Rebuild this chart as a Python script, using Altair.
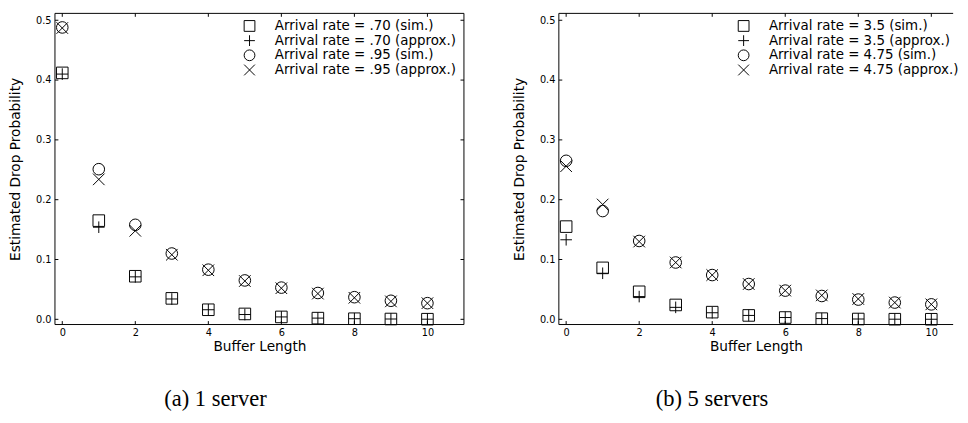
import altair as alt
import pandas as pd

# ---------------- data ----------------
buffer_len = list(range(11))

a_labels = [
    "Arrival rate = .70 (sim.)",
    "Arrival rate = .70 (approx.)",
    "Arrival rate = .95 (sim.)",
    "Arrival rate = .95 (approx.)",
]
a_sim_70 = [0.412, 0.165, 0.072, 0.035, 0.016, 0.009, 0.004, 0.002, 0.001, 0.0005, 0.0002]
a_approx_70 = [0.410, 0.154, 0.071, 0.034, 0.016, 0.008, 0.004, 0.002, 0.001, 0.0005, 0.0002]
a_sim_95 = [0.488, 0.251, 0.158, 0.110, 0.083, 0.065, 0.053, 0.044, 0.037, 0.031, 0.027]
a_approx_95 = [0.487, 0.234, 0.148, 0.108, 0.082, 0.064, 0.052, 0.043, 0.036, 0.030, 0.027]

b_labels = [
    "Arrival rate = 3.5 (sim.)",
    "Arrival rate = 3.5 (approx.)",
    "Arrival rate = 4.75 (sim.)",
    "Arrival rate = 4.75 (approx.)",
]
b_sim_35 = [0.155, 0.086, 0.046, 0.024, 0.012, 0.0065, 0.003, 0.0011, 0.0005, 0.0002, 0.0001]
b_approx_35 = [0.133, 0.077, 0.038, 0.020, 0.011, 0.0065, 0.003, 0.0012, 0.0005, 0.0002, 0.0001]
b_sim_475 = [0.265, 0.181, 0.131, 0.095, 0.074, 0.059, 0.048, 0.039, 0.033, 0.028, 0.025]
b_approx_475 = [0.256, 0.192, 0.130, 0.095, 0.074, 0.059, 0.048, 0.040, 0.034, 0.028, 0.025]

x_ticks = [0, 2, 4, 6, 8, 10]
y_ticks = [0.0, 0.1, 0.2, 0.3, 0.4, 0.5]

captions = ["(a) 1 server", "(b) 5 servers"]

# ---------------- styling ----------------
shapes = ["square", "M-1,0H1M0,-1V1", "circle", "M-1,-1L1,1M-1,1L1,-1"]
H = 318
TL = 3.5
FONT = "DejaVu Sans"


def rule(df, **enc):
    return alt.Chart(df).mark_rule(color="black", strokeWidth=1).encode(**enc)


def frame(series_labels, series_values, caption, legend_x, legend_y,
          width, x_max, right_side):
    rows = []
    for lab, vals in zip(series_labels, series_values):
        for b, v in zip(buffer_len, vals):
            rows.append({"buffer": b, "prob": v, "series": lab})
    df = pd.DataFrame(rows)

    xs = alt.Scale(domain=[-0.2, x_max], nice=False, zero=False)
    ys = alt.Scale(domain=[-0.0087, 0.5115], nice=False, zero=False)

    points = alt.Chart(df).mark_point(
        filled=False, color="black", strokeWidth=1, size=140, opacity=1
    ).encode(
        x=alt.X("buffer:Q", scale=xs, title="Buffer Length",
                axis=alt.Axis(values=x_ticks, format="d", labelPadding=3,
                              titlePadding=3)),
        y=alt.Y("prob:Q", scale=ys, title="Estimated Drop Probability",
                axis=alt.Axis(values=y_ticks, format=".1f", labelPadding=4,
                              titlePadding=13)),
        shape=alt.Shape(
            "series:N",
            scale=alt.Scale(domain=series_labels, range=shapes),
            legend=alt.Legend(
                title=None, orient="none", legendX=legend_x, legendY=legend_y,
                labelFont=FONT, labelFontSize=13.7, labelColor="black",
                labelLimit=400, labelOffset=19, rowPadding=-1.2,
                symbolSize=121, symbolStrokeWidth=1,
                symbolStrokeColor="black", symbolFillColor="transparent",
            ),
        ),
    )

    ydf = pd.DataFrame({"prob": y_ticks})
    xdf = pd.DataFrame({"buffer": x_ticks})
    one = pd.DataFrame({"buffer": [0]})

    layers = [
        points,
        # inward ticks
        rule(ydf, y=alt.Y("prob:Q", scale=ys), x=alt.value(0), x2=alt.value(TL)),
        rule(xdf, x=alt.X("buffer:Q", scale=xs), y=alt.value(H - TL), y2=alt.value(H)),
        rule(xdf, x=alt.X("buffer:Q", scale=xs), y=alt.value(0), y2=alt.value(TL)),
        # frame
        rule(one, x=alt.value(0), x2=alt.value(width), y=alt.value(0)),
        rule(one, x=alt.value(0), x2=alt.value(width), y=alt.value(H)),
        rule(one, x=alt.value(0), y=alt.value(0), y2=alt.value(H)),
    ]
    if right_side:
        layers += [
            rule(ydf, y=alt.Y("prob:Q", scale=ys), x=alt.value(width - TL),
                 x2=alt.value(width)),
            rule(one, x=alt.value(width), y=alt.value(0), y2=alt.value(H)),
        ]

    return alt.layer(*layers).properties(
        width=width, height=H,
        view=alt.ViewBackground(stroke="transparent"),
        title=alt.TitleParams(
            caption, orient="bottom", anchor="middle", dx=-45, offset=53,
            font="Liberation Serif", fontSize=23, fontWeight="normal",
            color="black", baseline="alphabetic",
        ),
    )


left = frame(a_labels, [a_sim_70, a_approx_70, a_sim_95, a_approx_95],
             captions[0], 192, 6, 418, 11.0, True)
right = frame(b_labels, [b_sim_35, b_approx_35, b_sim_475, b_approx_475],
              captions[1], 182, 6, 403, 10.598, False)

chart = alt.hconcat(left, right, spacing=48).resolve_scale(
    shape="independent"
).resolve_legend(shape="independent").properties(
    padding={"left": 0, "top": 0, "right": 0, "bottom": 0}
).configure_view(
    stroke="transparent"
).configure_axis(
    labelFont=FONT, labelFontSize=10, labelColor="black",
    titleFont=FONT, titleFontSize=14, titleFontWeight="normal",
    titleColor="black", grid=False, domain=False, ticks=False, tickSize=0,
)

chart.save("out.html", embed_options={"renderer": "svg", "actions": False})
